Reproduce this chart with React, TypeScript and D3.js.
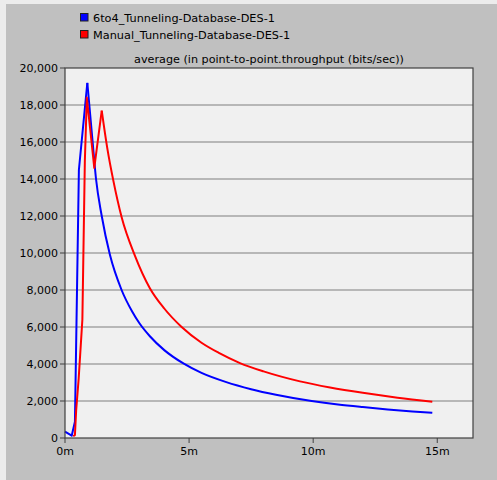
import { scaleLinear, line, curveLinear, curveMonotoneX } from 'd3';

// time in minutes, throughput in bits/sec
const blueTimes = [0, 0.27, 0.4, 0.56, 0.9, 1.1, 1.25, 1.48, 1.81, 2.28, 2.7, 3.0, 3.42, 4.0, 4.77, 5.5, 6.5, 7.5, 8.5, 9.94, 11, 12, 13, 14, 14.8];
const blueValues = [340, 125, 880, 14500, 19200, 16200, 14000, 12000, 9900, 8000, 6850, 6200, 5500, 4750, 4030, 3520, 3020, 2640, 2340, 2000, 1810, 1670, 1545, 1435, 1360];
const bluePeakIndex = 4;

const redTimes = [0.33, 0.4, 0.45, 0.55, 0.7, 0.8, 0.88, 1.18, 1.48, 1.7, 1.95, 2.28, 2.82, 3.42, 4.0, 4.7, 5.5, 6.2, 7.05, 8.0, 9.47, 10.68, 12, 13.4, 14.8];
const redValues = [100, 160, 1500, 3200, 6400, 15000, 18400, 14600, 17700, 15700, 13900, 11950, 9850, 8100, 7000, 6000, 5150, 4600, 4050, 3600, 3060, 2730, 2440, 2180, 1960];
const redPeakIndex = 8;

const seriesNames = ['6to4_Tunneling-Database-DES-1', 'Manual_Tunneling-Database-DES-1'];
const seriesColors = ['#0000ff', '#ff0000'];

const yTicks = [0, 2000, 4000, 6000, 8000, 10000, 12000, 14000, 16000, 18000, 20000];
const xTicks = [0, 5, 10, 15];
const xTickLabels = ['0m', '5m', '10m', '15m'];

const title = 'average (in point-to-point.throughput (bits/sec))';

const W = 497;
const H = 480;
const left = 65, right = 473, top = 68, bottom = 438;
const font = '"DejaVu Sans", Verdana, sans-serif';

const App = () => {
  const x = scaleLinear().domain([0, 16.44]).range([left, right]);
  const y = scaleLinear().domain([0, 20000]).range([bottom, top]);

  const sharp = line<[number, number]>()
    .x(d => x(d[0]))
    .y(d => y(d[1]))
    .curve(curveLinear);
  const smooth = line<[number, number]>()
    .x(d => x(d[0]))
    .y(d => y(d[1]))
    .curve(curveMonotoneX);

  const series = [
    { pts: blueTimes.map((t, i) => [t, blueValues[i]] as [number, number]), peak: bluePeakIndex },
    { pts: redTimes.map((t, i) => [t, redValues[i]] as [number, number]), peak: redPeakIndex },
  ];

  const fmt = (v: number) => v.toLocaleString('en-US');

  return (
    <svg width={W} height={H} style={{ position: 'absolute', left: 0, top: 0 }} fontFamily={font}>
      <rect x={0} y={0} width={W} height={H} fill="#ececec" />
      <rect x={6} y={4} width={W - 6} height={H - 4} fill="#c0c0c0" />

      {/* legend */}
      {seriesNames.map((name, i) => (
        <g key={name}>
          <rect x={80.5} y={13.5 + i * 17} width={7.5} height={7.5} fill={seriesColors[i]} stroke="#202020" />
          <text x={93} y={21.5 + i * 17} fontSize={11.3} fill="#000">{name}</text>
        </g>
      ))}

      <text x={(left + right) / 2} y={63} fontSize={11.2} textAnchor="middle" fill="#000">{title}</text>

      {/* plot area */}
      <rect x={left} y={top} width={right - left} height={bottom - top} fill="#f0f0f0" />
      {yTicks.slice(1, -1).map(v => (
        <line key={v} x1={left} x2={right} y1={y(v)} y2={y(v)} stroke="#a4a4a4" strokeWidth={1.5} />
      ))}

      {series.map((s, i) => (
        <g key={i} fill="none" stroke={seriesColors[i]} strokeWidth={2} strokeLinejoin="round">
          <path d={sharp(s.pts.slice(0, s.peak + 1)) || ''} />
          <path d={smooth(s.pts.slice(s.peak)) || ''} />
        </g>
      ))}

      <rect x={left} y={top} width={right - left} height={bottom - top} fill="none" stroke="#404040" strokeWidth={1.2} />

      {/* y axis */}
      {yTicks.map(v => (
        <g key={v}>
          <line x1={left - 5} x2={left} y1={y(v)} y2={y(v)} stroke="#404040" />
          <text x={left - 7} y={y(v) + 4} fontSize={11} textAnchor="end" fill="#000">{fmt(v)}</text>
        </g>
      ))}

      {/* x axis */}
      {xTicks.map((t, i) => (
        <g key={t}>
          <line x1={x(t)} x2={x(t)} y1={bottom} y2={bottom + 5} stroke="#404040" />
          <text x={x(t)} y={bottom + 17} fontSize={11} textAnchor="middle" fill="#000">{xTickLabels[i]}</text>
        </g>
      ))}
    </svg>
  );
};

export default App;
